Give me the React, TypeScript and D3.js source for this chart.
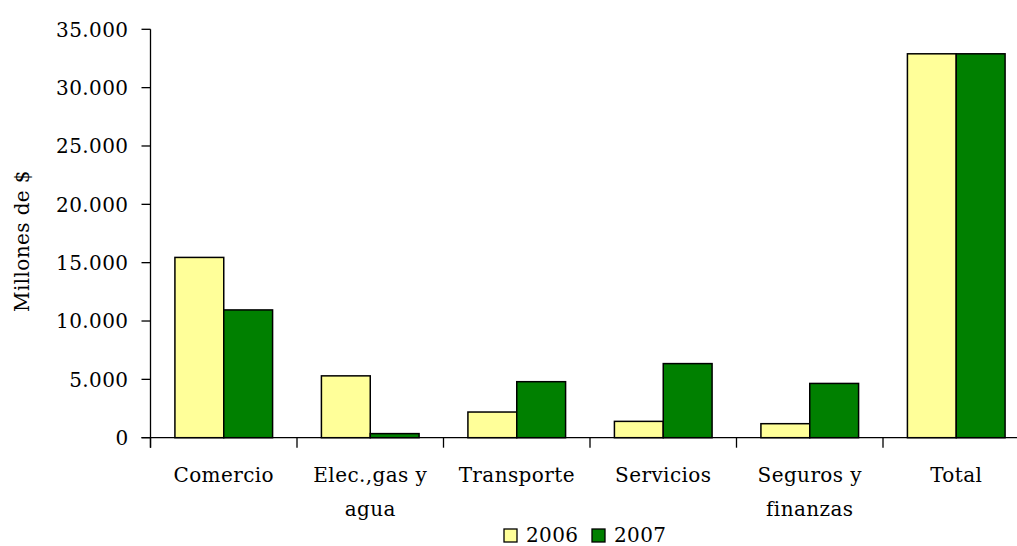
import React from "react";
import * as d3 from "d3";

const categories = ["Comercio", "Elec.,gas y|agua", "Transporte", "Servicios", "Seguros y|finanzas", "Total"];
const series = ["2006", "2007"];
const values2006 = [15450, 5300, 2200, 1400, 1200, 32900];
const values2007 = [10950, 350, 4800, 6350, 4650, 32900];
const yTicks = [0, 5000, 10000, 15000, 20000, 25000, 30000, 35000];
const colors = ["#FFFF99", "#008000"];

const W = 1017, H = 546;
const left = 150.5, right = 1029.5, top = 29.3, bottom = 437.7;
const font = "'DejaVu Serif', serif";

export default function App() {
  const x = d3.scaleBand().domain(categories).range([left, right]).paddingInner(0).paddingOuter(0);
  const inner = d3.scaleBand().domain(series).range([0, x.bandwidth()]).paddingInner(0).paddingOuter(0.5);
  const y = d3.scaleLinear().domain([0, 35000]).range([bottom, top]);
  const fmt = (v: number) => d3.format(",")(v).replace(/,/g, ".");
  const data = [values2006, values2007];
  return (
    <svg width={W} height={H} style={{ position: "absolute", left: 0, top: 0 }} fontFamily={font} letterSpacing={0.4}>
      <rect width={W} height={H} fill="#fff" />
      {categories.map((c, i) =>
        series.map((s, j) => {
          const v = data[j][i];
          return (
            <rect key={c + s} x={x(c)! + inner(s)!} y={y(v)} width={inner.bandwidth()} height={y(0) - y(v)}
              fill={colors[j]} stroke="#000" strokeWidth={1.5} />
          );
        })
      )}
      <line x1={left} x2={left} y1={top} y2={bottom + 10} stroke="#000" strokeWidth={1.3} />
      <line x1={left - 9} x2={W} y1={bottom} y2={bottom} stroke="#000" strokeWidth={1.3} />
      {yTicks.map(t => (
        <g key={t}>
          <line x1={left - 9} x2={left} y1={y(t)} y2={y(t)} stroke="#000" strokeWidth={1.3} />
          <text x={left - 22} y={y(t)} dy="0.36em" textAnchor="end" fontSize={20} fill="#000">{fmt(t)}</text>
        </g>
      ))}
      {categories.map(c => (
        <line key={"t" + c} x1={x(c)!} x2={x(c)!} y1={bottom} y2={bottom + 10} stroke="#000" strokeWidth={1.3} />
      ))}
      {categories.map(c => {
        const lines = c.split("|");
        return (
          <text key={"l" + c} x={x(c)! + x.bandwidth() / 2} textAnchor="middle" fontSize={20} fill="#000">
            {lines.map((ln, k) => (
              <tspan key={k} x={x(c)! + x.bandwidth() / 2} y={482 + k * 34}>{ln}</tspan>
            ))}
          </text>
        );
      })}
      <text transform={`translate(29,241) rotate(-90)`} textAnchor="middle" fontSize={20} fill="#000">Millones de $</text>
      {series.map((s, j) => (
        <g key={"lg" + s} transform={`translate(${504 + j * 88},0)`}>
          <rect x={0} y={529} width={13} height={13} fill={colors[j]} stroke="#000" strokeWidth={1.3} />
          <text x={22} y={542} fontSize={20} fill="#000">{s}</text>
        </g>
      ))}
    </svg>
  );
}
